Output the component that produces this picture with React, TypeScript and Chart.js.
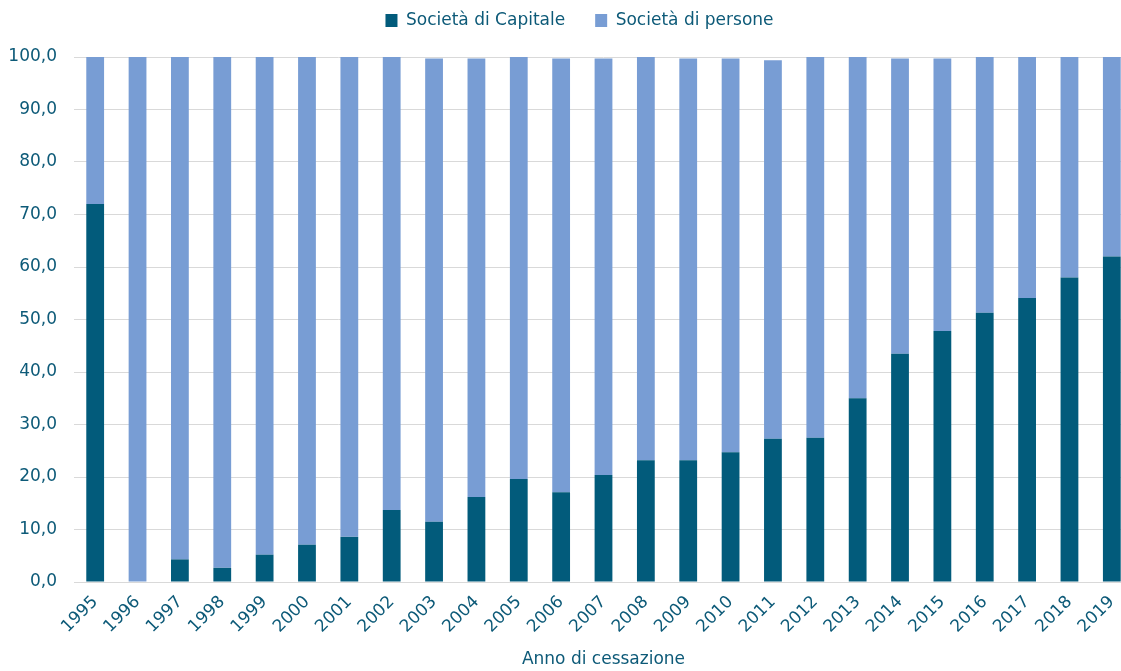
import React, { useEffect, useRef } from "react";
import { Chart, registerables } from "chart.js";

Chart.register(...registerables);

const years = [
  "1995", "1996", "1997", "1998", "1999", "2000", "2001", "2002", "2003", "2004",
  "2005", "2006", "2007", "2008", "2009", "2010", "2011", "2012", "2013", "2014",
  "2015", "2016", "2017", "2018", "2019",
];

const capitale = [
  72.0, 0.0, 4.3, 2.7, 5.2, 7.1, 8.6, 13.7, 11.5, 16.2,
  19.6, 17.1, 20.4, 23.2, 23.2, 24.7, 27.3, 27.5, 35.0, 43.5,
  47.8, 51.3, 54.1, 58.0, 62.0,
];

const persone = [
  28.0, 100.0, 95.7, 97.3, 94.8, 92.9, 91.4, 86.3, 88.2, 83.5,
  80.4, 82.6, 79.3, 76.8, 76.5, 75.0, 72.1, 72.5, 65.0, 56.2,
  51.9, 48.7, 45.9, 42.0, 38.0,
];

const yTicks = [0, 10, 20, 30, 40, 50, 60, 70, 80, 90, 100];

const DARK = "#025b7b";
const LIGHT = "#789dd4";
const TEXT = "#0d5a78";
const FONT = "'DejaVu Sans', sans-serif";

const legendTweak = {
  id: "legendTweak",
  beforeInit(chart: any) {
    const lg = chart.legend;
    if (!lg) return;
    const origFit = lg.fit.bind(lg);
    lg.fit = function () {
      origFit();
      this.height += 18;
    };
    const origDraw = lg.draw.bind(lg);
    lg.draw = function () {
      const ctx = chart.ctx;
      ctx.save();
      ctx.translate(13, 0);
      origDraw();
      ctx.restore();
    };
  },
};

export default function App() {
  const ref = useRef<HTMLCanvasElement | null>(null);

  useEffect(() => {
    if (!ref.current) return;
    const chart = new Chart(ref.current, {
      type: "bar",
      data: {
        labels: years,
        datasets: [
          {
            label: "Società di Capitale",
            data: capitale,
            backgroundColor: DARK,
            borderWidth: 0,
            barPercentage: 0.42,
            categoryPercentage: 1,
          },
          {
            label: "Società di persone",
            data: persone,
            backgroundColor: LIGHT,
            borderWidth: 0,
            barPercentage: 0.42,
            categoryPercentage: 1,
          },
        ],
      },
      options: {
        responsive: false,
        animation: false,
        layout: { padding: { left: 0, right: 0, top: -18, bottom: 0 } },
        plugins: {
          tooltip: { enabled: false },
          legend: {
            position: "top",
            labels: {
              color: TEXT,
              font: { family: FONT, size: 17 },
              boxWidth: 12,
              boxHeight: 13,
              padding: 30,
            },
          },
        },
        scales: {
          x: {
            stacked: true,
            grid: { display: false },
            border: { display: true, color: "#d9d9d9" },
            ticks: {
              color: TEXT,
              font: { family: FONT, size: 17 },
              maxRotation: 45,
              minRotation: 45,
              autoSkip: false,
              padding: 2,
            },
            title: {
              display: true,
              text: "Anno di cessazione",
              color: TEXT,
              font: { family: FONT, size: 17 },
              padding: { top: 0, bottom: 1 },
            },
            afterFit: (scale: any) => {
              scale.height = 89;
            },
          },
          y: {
            stacked: true,
            min: 0,
            max: 100,
            afterBuildTicks: (scale: any) => {
              scale.ticks = yTicks.map((v) => ({ value: v }));
            },
            grid: { color: "#d9d9d9", drawTicks: false },
            border: { display: false },
            ticks: {
              color: TEXT,
              font: { family: FONT, size: 17 },
              padding: 17,
              callback: (v: any) => Number(v).toFixed(1).replace(".", ","),
            },
            afterFit: (scale: any) => {
              scale.width = 74;
            },
          },
        },
      },
      plugins: [legendTweak],
    });
    return () => chart.destroy();
  }, []);

  return (
    <div
      style={{
        position: "fixed",
        left: 0,
        top: 0,
        width: 1121,
        height: 671,
        overflow: "hidden",
        background: "#ffffff",
      }}
    >
      <canvas ref={ref} width={1133} height={671} style={{ display: "block" }} />
    </div>
  );
}
